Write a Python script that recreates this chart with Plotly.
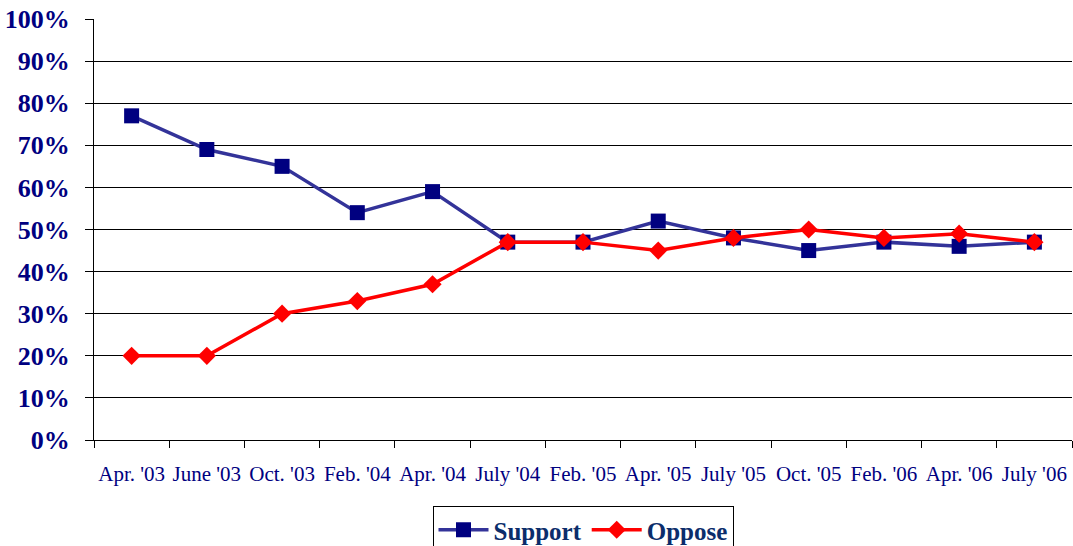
import plotly.graph_objects as go

categories = ["Apr. '03", "June '03", "Oct. '03", "Feb. '04", "Apr. '04", "July '04", "Feb. '05",
              "Apr. '05", "July '05", "Oct. '05", "Feb. '06", "Apr. '06", "July '06"]
support = [77, 69, 65, 54, 59, 47, 47, 52, 48, 45, 47, 46, 47]
oppose = [20, 20, 30, 33, 37, 47, 47, 45, 48, 50, 48, 49, 47]
y_ticks = list(range(0, 101, 10))
y_tick_labels = [f"{v}%" for v in y_ticks]

FONT = "Liberation Serif, Times New Roman, serif"
NAVY = "#000080"

fig = go.Figure()
fig.add_trace(go.Scatter(
    x=categories, y=support, name="Support", mode="lines+markers",
    line=dict(color="#333399", width=3.5),
    marker=dict(symbol="square", size=15, color=NAVY),
))
fig.add_trace(go.Scatter(
    x=categories, y=oppose, name="Oppose", mode="lines+markers",
    line=dict(color="#FF0000", width=3.5),
    marker=dict(symbol="diamond", size=14, color="#FF0000"),
))

fig.update_layout(
    width=1073, height=546,
    margin=dict(l=94, r=1, t=19, b=106),
    plot_bgcolor="white", paper_bgcolor="white",
    font=dict(family=FONT, color=NAVY),
    showlegend=True,
    legend=dict(
        orientation="h", x=0.5, xanchor="center",
        yref="container", y=1 - 506 / 546, yanchor="top",
        font=dict(family=FONT, size=25, color="#0B2D6B", weight="bold"),
        bordercolor="black", borderwidth=1, bgcolor="white",
        itemwidth=50,
    ),
    xaxis=dict(
        type="category", range=[-0.5, 12.5], automargin=False,
        tickson="boundaries", ticks="outside", ticklen=7, tickcolor="black",
        showline=True, linecolor="black", linewidth=1,
        showgrid=False, tickangle=0,
        tickfont=dict(family=FONT, size=21, color=NAVY),
        ticklabelstandoff=15,
    ),
    yaxis=dict(
        range=[0, 100], tickvals=y_ticks, ticktext=y_tick_labels, automargin=False,
        ticks="outside", ticklen=8, tickcolor="black",
        showline=True, linecolor="black", linewidth=1,
        showgrid=True, gridcolor="black", gridwidth=1,
        zeroline=False,
        tickfont=dict(family=FONT, size=26, color=NAVY, weight="bold"),
        ticklabelstandoff=10,
    ),
)

fig.write_html(
    "out.html",
    config={"displayModeBar": False},
    post_script="document.body.style.margin='0';document.body.style.overflow='hidden';",
)
